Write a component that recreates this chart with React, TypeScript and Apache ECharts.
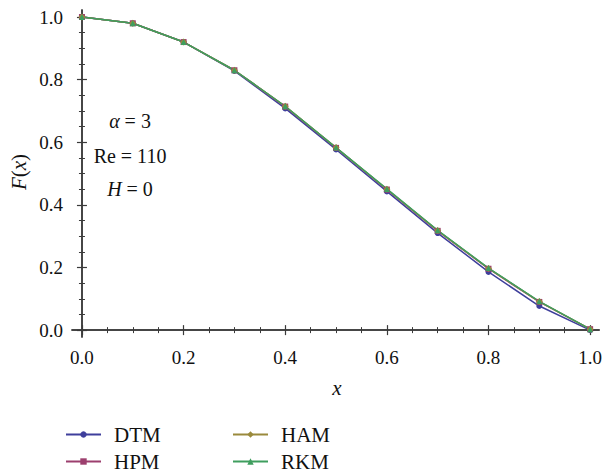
import React, { useEffect, useRef } from "react";
import * as echarts from "echarts";

const xValues = [0, 0.1, 0.2, 0.3, 0.4, 0.5, 0.6, 0.7, 0.8, 0.9, 1.0];
const dtm = [1.0, 0.98, 0.92, 0.828, 0.708, 0.577, 0.443, 0.31, 0.186, 0.077, 0.0];
const hpm = [1.0, 0.98, 0.92, 0.83, 0.714, 0.582, 0.449, 0.317, 0.196, 0.09, 0.003];
const ham = [1.0, 0.98, 0.92, 0.83, 0.715, 0.583, 0.45, 0.318, 0.197, 0.091, 0.003];
const rkm = [1.0, 0.98, 0.92, 0.83, 0.715, 0.583, 0.451, 0.319, 0.198, 0.092, 0.003];
const seriesNames = ["DTM", "HPM", "HAM", "RKM"];
const majorTicks = [0, 0.2, 0.4, 0.6, 0.8, 1.0];
const minorTicks = [0.05, 0.1, 0.15, 0.25, 0.3, 0.35, 0.45, 0.5, 0.55, 0.65, 0.7, 0.75, 0.85, 0.9, 0.95];
const annotations = ["{i|α} = 3", "Re = 110", "{i|H} = 0"];

const FONT = "Liberation Serif, serif";
const FRAME = "#3a3a3a";
const colors = ["#3f3f9c", "#9c3f6e", "#9a8a3c", "#3f9e5e"];
const symbols = ["circle", "rect", "diamond", "triangle"];
const legendPos = [
  [65, 424],
  [65, 451],
  [232, 424],
  [232, 451],
];

function axisSet(kind: "x" | "y", min: number, max: number) {
  const pos = kind === "x" ? ["bottom", "top"] : ["left", "right"];
  const out: any[] = [];
  pos.forEach((p, pi) => {
    out.push({
      type: "value",
      position: p,
      min,
      max,
      splitLine: { show: false },
      axisLine: { show: true, lineStyle: { color: FRAME, width: 1.5 } },
      axisTick: { show: true, inside: true, length: 5, customValues: majorTicks, lineStyle: { color: FRAME, width: 1.2 } },
      axisLabel: pi === 0
        ? {
            show: true,
            customValues: majorTicks,
            formatter: (v: number) => v.toFixed(1),
            fontFamily: FONT,
            fontSize: 19,
            color: "#111",
            margin: kind === "x" ? 11 : 9,
          }
        : { show: false },
    });
    out.push({
      type: "value",
      position: p,
      min,
      max,
      splitLine: { show: false },
      axisLine: { show: false },
      axisTick: { show: true, inside: true, length: 3, customValues: minorTicks, lineStyle: { color: FRAME, width: 1 } },
      axisLabel: { show: false },
    });
  });
  return out;
}

export default function App() {
  const ref = useRef<HTMLDivElement>(null);
  useEffect(() => {
    if (!ref.current) return;
    const chart = echarts.init(ref.current, null, { renderer: "svg" });
    const data = [dtm, hpm, ham, rkm];
    const option: any = {
      animation: false,
      backgroundColor: "#fff",
      grid: { left: 72, top: 10, width: 528, height: 327, containLabel: false },
      xAxis: axisSet("x", -0.0196, 1.0177),
      yAxis: axisSet("y", -0.022, 1.0224),
      legend: seriesNames.map((name, i) => ({
        data: [name],
        left: legendPos[i][0],
        top: legendPos[i][1],
        padding: 0,
        itemWidth: 35,
        itemHeight: 8,
        textStyle: { fontFamily: FONT, fontSize: 21, color: "#111", lineHeight: 20, padding: [0, 0, 0, 8] },
      })),
      series: seriesNames.map((name, i) => ({
        name,
        type: "line",
        xAxisIndex: 0,
        yAxisIndex: 0,
        data: xValues.map((x, j) => [x, data[i][j]]),
        symbol: symbols[i],
        symbolSize: i === 2 ? 7 : 6,
        showSymbol: true,
        color: colors[i],
        lineStyle: { color: colors[i], width: 1.5 },
        itemStyle: { color: colors[i] },
      })),
      graphic: [
        ...annotations.map((t, i) => ({
          type: "text",
          x: 130,
          y: [121, 156, 189][i],
          style: {
            text: t,
            fontFamily: FONT,
            fontSize: 20,
            fill: "#111",
            align: "center",
            verticalAlign: "middle",
            rich: { i: { fontFamily: FONT, fontSize: 20, fontStyle: "italic", fill: "#111" } },
          },
        })),
        {
          type: "text",
          x: 19,
          y: 172,
          rotation: Math.PI / 2,
          style: {
            text: "{i|F}({i|x})",
            fontFamily: FONT,
            fontSize: 21,
            fill: "#111",
            align: "center",
            verticalAlign: "middle",
            rich: { i: { fontFamily: FONT, fontSize: 21, fontStyle: "italic", fill: "#111" } },
          },
        },
        {
          type: "text",
          x: 337,
          y: 388,
          style: {
            text: "x",
            fontFamily: FONT,
            fontSize: 21,
            fontStyle: "italic",
            fill: "#111",
            align: "center",
            verticalAlign: "middle",
          },
        },
      ],
    };
    chart.setOption(option);
    return () => chart.dispose();
  }, []);
  return <div ref={ref} style={{ width: 605, height: 475, position: "absolute", left: 0, top: 0 }} />;
}
